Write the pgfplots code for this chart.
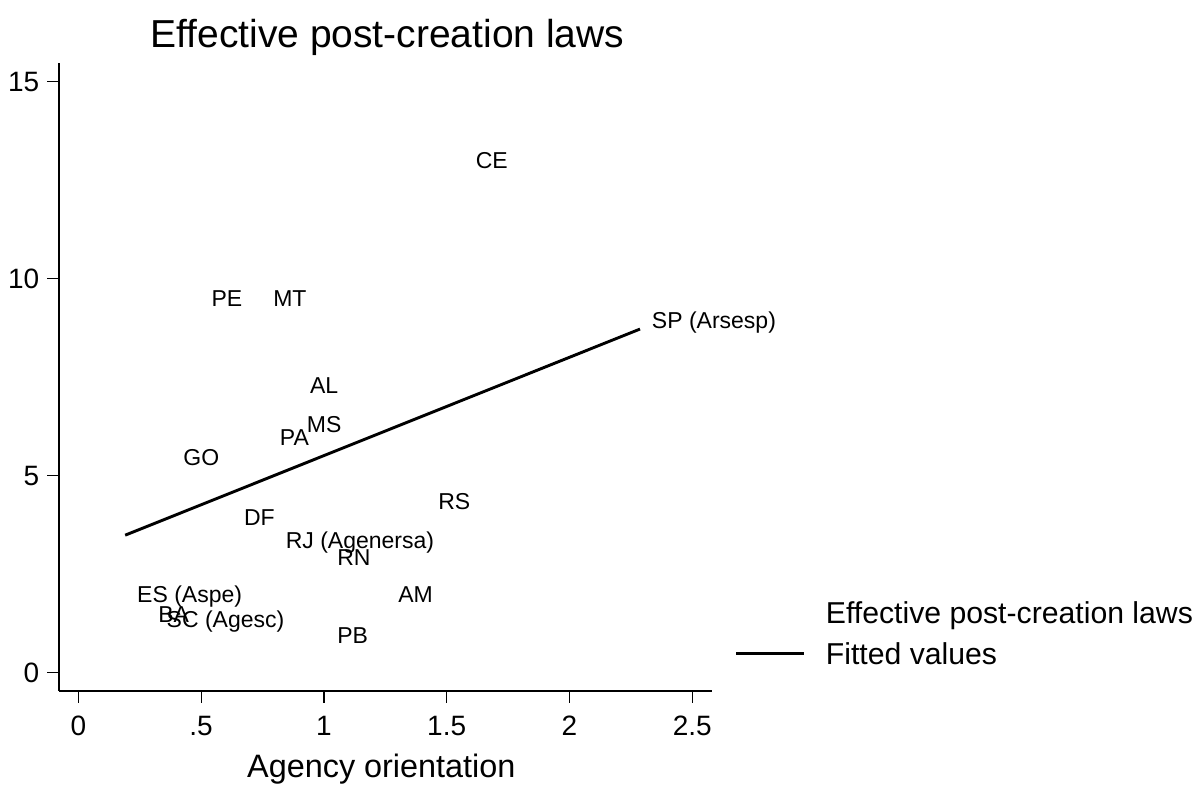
\documentclass[border=0pt]{standalone}
\usepackage{fontspec}
\setmainfont{Liberation Sans}
\usepackage{pgfplots}
\pgfplotsset{compat=1.18}
\usepackage{pgfplotstable}
\pgfplotstableread{
x y label
1.570 13.00 CE
0.494 9.50 PE
0.745 9.50 MT
2.287 8.95 {SP (Arsesp)}
0.895 7.30 AL
0.882 6.31 MS
0.772 5.98 PA
0.379 5.47 GO
1.417 4.36 RS
0.626 3.95 DF
0.796 3.37 {RJ (Agenersa)}
1.006 2.94 RN
0.191 2.00 {ES (Aspe)}
1.254 2.00 AM
0.277 1.49 BA
0.311 1.36 {SC (Agesc)}
1.006 0.96 PB
}\pts
\begin{document}
\begin{tikzpicture}
\path[use as bounding box] (-29.5pt,-47pt) rectangle (571pt,345.5pt);
\begin{axis}[
  scale only axis, width=326.35pt, height=314.15pt,
  xmin=-0.0786, xmax=2.579, ymin=-0.464, ymax=15.48,
  axis x line=bottom, axis y line=left,
  axis line style={-, line width=0.65pt, black},
  tick align=outside, major tick length=5.8pt,
  tick style={line width=0.6pt, black},
  xtick={0,0.5,1,1.5,2,2.5}, xticklabels={0,.5,1,1.5,2,2.5},
  ytick={0,5,10,15}, yticklabels={0,5,10,15},
  minor tick num=0,
  /pgf/number format/assume math mode=true,
  xticklabel style={anchor=north, inner sep=0pt, text height=10pt, text depth=0pt, yshift=-6.5pt, font=\fontsize{14}{14}\selectfont},
  yticklabel style={anchor=east, inner sep=0pt, text height=10pt, text depth=0pt, xshift=-3.85pt, font=\fontsize{14}{14}\selectfont},
  title={Effective post-creation laws},
  title style={at={(0.5,1)}, anchor=base, yshift=1.7pt, xshift=1pt, inner sep=0pt, font=\fontsize{19.5}{19.5}\selectfont},
  xlabel={Agency orientation},
  xlabel style={at={(axis description cs:0.5,0)}, anchor=base, yshift=-43.35pt, xshift=-2pt, inner sep=0pt, font=\fontsize{16.2}{16.2}\selectfont},
  legend style={at={(1.0357,0.1413)}, anchor=north west, draw=none, fill=none,
    inner sep=0pt, outer sep=0pt, row sep=9.8pt, column sep=10pt,
    nodes={inner sep=0pt, text height=10.7pt, text depth=0pt, font=\fontsize{15.1}{15.1}\selectfont}},
  legend cell align=left,
  legend image code/.code={\draw[#1] (0pt,0pt) -- (34pt,0pt);},
  clip=false,
]
\addplot[only marks, mark=none, black, nodes near coords, point meta=explicit symbolic,
  every node near coord/.append style={anchor=west, inner sep=0pt, xshift=5.8pt, black,
    font=\fontsize{11.5}{11.5}\selectfont, text height=8.2pt, text depth=0pt},
  legend image code/.code={}]
  table[x=x, y=y, meta=label]{\pts};
\addlegendentry{Effective post-creation laws}
\addplot[black, line width=1.45pt] coordinates {(0.191,3.49) (2.287,8.72)};
\addlegendentry{Fitted values}
\end{axis}
\end{tikzpicture}
\end{document}
